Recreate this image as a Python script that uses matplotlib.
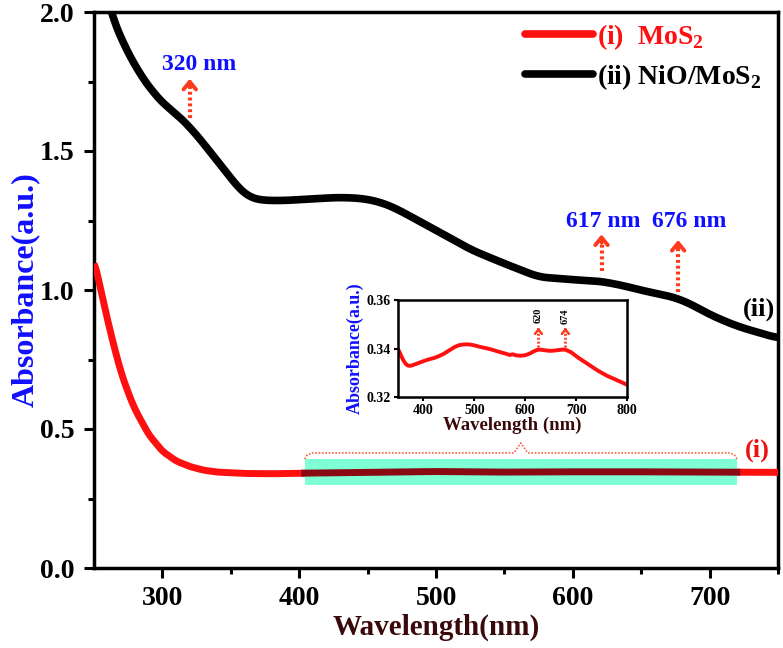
import numpy as np
import matplotlib.pyplot as plt
from matplotlib.patches import Rectangle

plt.rcParams['font.family'] = ['Liberation Serif', 'DejaVu Serif']
plt.rcParams['font.weight'] = 'bold'
plt.rcParams['mathtext.fontset'] = 'custom'
plt.rcParams['mathtext.rm'] = 'Liberation Serif:bold'
plt.rcParams['mathtext.bf'] = 'Liberation Serif:bold'

# NiO/MoS2 (ii)
wl_ii = [256, 262, 270, 283, 295, 303, 311, 320, 328, 336, 344, 351, 357, 363, 370, 376,
         390, 410, 429, 445, 458, 470, 485, 500, 526, 550, 575, 600, 619, 635, 649, 662,
         676, 688, 698, 710, 722, 735, 750]
abs_ii = [2.12, 2.0, 1.9, 1.78, 1.70, 1.66, 1.63, 1.586, 1.54, 1.49, 1.44, 1.396, 1.36, 1.335,
          1.325, 1.322, 1.322, 1.328, 1.333, 1.33, 1.318, 1.295, 1.255, 1.215, 1.144, 1.095,
          1.047, 1.037, 1.032, 1.018, 1.0, 0.987, 0.971, 0.945, 0.917, 0.89, 0.867, 0.848, 0.827]

# MoS2 (i)
wl_i = [250, 255, 260, 265, 270, 275, 280, 290, 300, 310, 320, 330, 340, 360, 380, 400,
        450, 500, 550, 600, 650, 700, 750]
abs_i = [1.11, 1.0, 0.89, 0.79, 0.70, 0.63, 0.57, 0.48, 0.42, 0.385, 0.365, 0.352, 0.345,
         0.340, 0.339, 0.341, 0.344, 0.347, 0.345, 0.346, 0.346, 0.345, 0.344]

# inset: MoS2 zoom
wl_in = [350, 356, 362, 368, 374, 380, 390, 400, 410, 420, 430, 440, 450, 460, 470, 480,
         490, 500, 510, 520, 530, 540, 550, 560, 570, 575, 580, 590, 600, 610, 620, 628,
         640, 650, 660, 670, 678, 690, 700, 720, 740, 760, 780, 800]
abs_in = [0.340, 0.337, 0.3345, 0.333, 0.3328, 0.3332, 0.334, 0.3348, 0.3355, 0.336, 0.3368,
          0.3378, 0.3392, 0.3405, 0.3414, 0.3417, 0.3417, 0.3413, 0.3407, 0.3403, 0.3398,
          0.3392, 0.3385, 0.338, 0.3372, 0.3378, 0.3372, 0.337, 0.3372, 0.338, 0.3392,
          0.3396, 0.3392, 0.339, 0.3392, 0.3395, 0.3396, 0.3385, 0.3368, 0.334, 0.3312,
          0.3288, 0.327, 0.325]

peaks_main = [320, 617, 676]
peaks_inset = [620, 674]
band = (404, 720)

blue = '#1010ff'
maroon = '#3a0a0a'
arrow_red = '#ff3a1c'


def smooth(x, y, w=7):
    xs = np.linspace(x[0], x[-1], 800)
    ys = np.interp(xs, x, y)
    k = max(int(w / (xs[1] - xs[0])), 1)
    pad = np.concatenate([np.full(k, ys[0]), ys, np.full(k, ys[-1])])
    ker = np.ones(2 * k + 1) / (2 * k + 1)
    ys = np.convolve(pad, ker, mode='same')[k:-k]
    return xs, ys


fig = plt.figure(figsize=(7.83, 6.48), dpi=100)
ax = fig.add_axes([94 / 783, 1 - 568 / 648, 684 / 783, 556 / 648])

xi, yi = smooth(wl_i, abs_i, 3)
xii, yii = smooth(wl_ii, abs_ii, 7)
ax.plot(xi, yi, color='#ff1010', lw=5, solid_capstyle='butt', label=r'(i)  MoS$_2$', zorder=3)
ax.plot(xii, yii, color='black', lw=5.5, solid_capstyle='butt', label=r'(ii) NiO/MoS$_2$', zorder=3)

# highlighted band on the MoS2 curve
ax.add_patch(Rectangle((band[0], 0.299), band[1] - band[0], 0.093, facecolor='#7fffd4',
                       edgecolor='none', zorder=4))
seg_x = np.linspace(band[0], band[1], 60)
ax.plot(seg_x, np.interp(seg_x, xi, yi), color='#8a0a14', lw=5, zorder=5)

# dotted brace above band
mid = (band[0] + band[1]) / 2
bx = [band[0], band[0] + 2, band[0] + 6, mid - 5, mid, mid + 5, band[1] - 6, band[1] - 2, band[1]]
by = [0.392, 0.408, 0.414, 0.414, 0.45, 0.414, 0.414, 0.408, 0.392]
ax.plot(bx, by, color='#ff6040', lw=1.2, ls=(0, (1, 1)), zorder=4)

# peak markers on main plot
arrows = [(320, 1.62, 1.77, 327, 1.81), (621, 1.07, 1.21, 622, 1.245), (677, 0.993, 1.19, 685, 1.245)]
labels = ['%d nm' % p for p in peaks_main]
for (x, y0, y1, tx, ty), lab in zip(arrows, labels):
    ax.plot([x, x], [y0, y1 - 0.03], color=arrow_red, lw=3, ls=(0, (0.7, 0.7)), zorder=4)
    ax.annotate('', xy=(x, y1), xytext=(x, y1 - 0.05),
                arrowprops=dict(arrowstyle='->,head_width=0.45,head_length=0.55', color=arrow_red, lw=2.8))
    ax.text(tx, ty, lab, color=blue, fontsize=17, fontweight='bold', ha='center', va='center')

ax.text(736, 0.93, '(ii)', color='black', fontsize=19, fontweight='bold', ha='center', va='center')
ax.text(735, 0.425, '(i)', color='#ee1111', fontsize=19, fontweight='bold', ha='center', va='center')

ax.set_xlim(250, 750)
ax.set_ylim(0, 2.0)
ax.set_xticks([300, 400, 500, 600, 700])
ax.set_xticks([350, 450, 550, 650, 750], minor=True)
ax.set_yticks([0.0, 0.5, 1.0, 1.5, 2.0])
ax.set_yticks([0.25, 0.75, 1.25, 1.75], minor=True)
ax.tick_params(which='major', direction='out', length=7, width=2.2, labelsize=20)
ax.tick_params(which='minor', direction='out', length=4, width=2.2)
ax.tick_params(axis='x', which='major', pad=6)
ax.tick_params(axis='y', which='major', pad=7)
for sp in ax.spines.values():
    sp.set_linewidth(2.5)
for t in ax.get_xticklabels() + ax.get_yticklabels():
    t.set_fontweight('bold')
ax.set_xlabel('Wavelength(nm)', fontsize=21, fontweight='bold', color=maroon, labelpad=2)
ax.set_ylabel('Absorbance(a.u.)', fontsize=23, fontweight='bold', color=blue, labelpad=0)

leg = ax.legend(loc='upper left', frameon=False, fontsize=20, handlelength=2.45,
                handletextpad=0.15, labelspacing=0.38, borderpad=0, borderaxespad=0,
                bbox_to_anchor=(0.63, 0.982))
for txt, c in zip(leg.get_texts(), ['#ff1010', 'black']):
    txt.set_color(c)
    txt.set_fontweight('bold')
for h in leg.get_lines():
    h.set_linewidth(5.5)
    h.set_solid_capstyle('round')

# inset
axi = fig.add_axes([398 / 783, 1 - 397 / 648, 229 / 783, 97 / 648])
axi.plot(*smooth(wl_in, abs_in, 3), color='#ff1010', lw=2.8)
axi.set_xlim(350, 800)
axi.set_ylim(0.32, 0.36)
axi.set_xticks([400, 500, 600, 700, 800])
axi.set_yticks([0.32, 0.34, 0.36])
axi.set_yticklabels(['0.32', '0.34', '0.36'])
axi.tick_params(direction='out', length=3, width=1.5, labelsize=10, pad=2)
for t in axi.get_xticklabels() + axi.get_yticklabels():
    t.set_fontweight('bold')
for sp in axi.spines.values():
    sp.set_linewidth(1.8)
axi.set_xlabel('Wavelength (nm)', fontsize=13.5, fontweight='bold', color=maroon, labelpad=0)
axi.set_ylabel('Absorbance(a.u.)', fontsize=13, fontweight='bold', color=blue, labelpad=2)
for p, x in zip(peaks_inset, [626, 679]):
    axi.plot([x, x], [0.3408, 0.3478], color=arrow_red, lw=2, ls=(0, (0.7, 0.7)))
    axi.annotate('', xy=(x, 0.3497), xytext=(x, 0.3465),
                 arrowprops=dict(arrowstyle='->,head_width=0.25,head_length=0.3', color=arrow_red, lw=1.8))
    axi.text(x, 0.3535, str(p), rotation=90, fontsize=7.5, fontweight='bold', ha='center', va='center')

fig.savefig('out.png', dpi=100)
